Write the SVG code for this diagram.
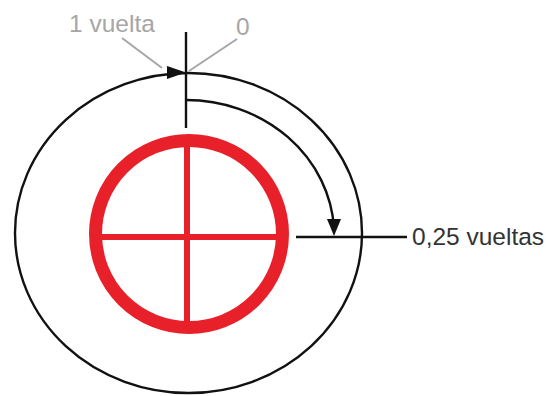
<svg xmlns="http://www.w3.org/2000/svg" width="552" height="396" viewBox="0 0 552 396">
<style>
.blk{fill:none;stroke:#111;stroke-width:2.4}
.red{fill:none;stroke:#e8202a}
.gry{stroke:#a6a6a6;stroke-width:2;fill:none}
.lbl{font-family:"Liberation Sans",Arial,sans-serif;font-size:24.5px}
</style>
<rect width="552" height="396" fill="#fff"/>
<g id="outer-circle">
<ellipse class="blk" cx="188.5" cy="233" rx="173.5" ry="160" stroke-width="2.6"/>
</g>
<g id="red-target">
<circle class="red" cx="189" cy="234" r="93.5" stroke-width="13"/>
<line class="red" x1="187" y1="141" x2="187" y2="328" stroke-width="6"/>
<line class="red" x1="96" y1="237" x2="283" y2="237" stroke-width="6"/>
</g>
<g id="connectors">
<line class="blk" x1="186" y1="32" x2="186" y2="128"/>
<line class="blk" x1="296" y1="237" x2="407" y2="237"/>
<path class="blk" d="M186,100 A148,136 0 0 1 334,228"/>
<polygon points="327,219 341,219 334,236" fill="#111"/>
<polygon points="167,66 167,79 186,72.5" fill="#111"/>
<line class="gry" x1="122" y1="38" x2="162" y2="68"/>
<line class="gry" x1="237" y1="39" x2="189" y2="71"/>
</g>
<g id="label-1vuelta"><text class="lbl" x="69" y="32" fill="#a6a6a6">1 vuelta</text></g>
<g id="label-0"><text class="lbl" x="236" y="35" fill="#a6a6a6">0</text></g>
<g id="label-025"><text class="lbl" x="412" y="245" fill="#333">0,25 vueltas</text></g>
</svg>
